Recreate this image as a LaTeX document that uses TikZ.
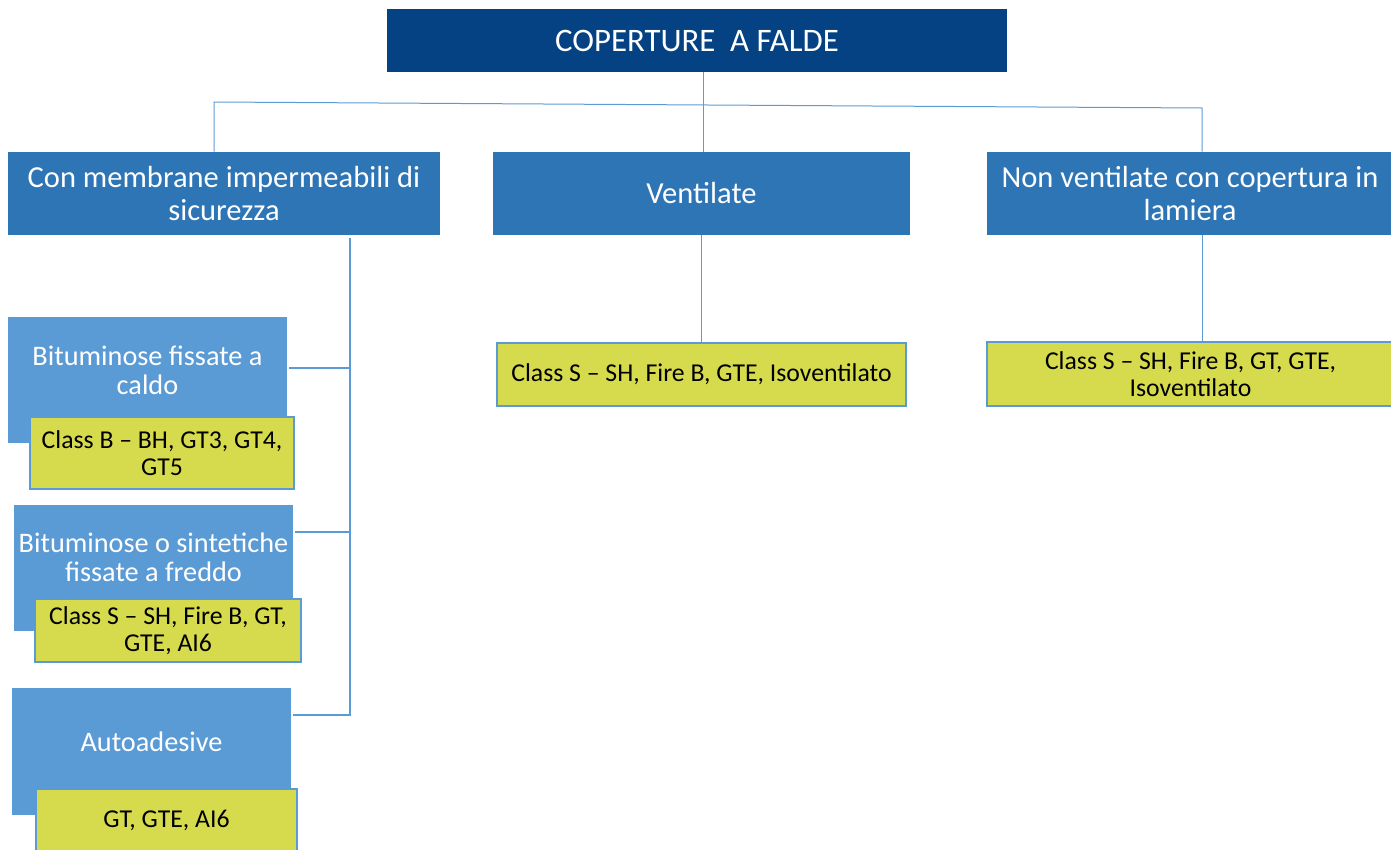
\documentclass[tikz,border=0pt]{standalone}
\usepackage{fontspec}
\setmainfont{Carlito}
\definecolor{topblue}{RGB}{4,66,132}
\definecolor{midblue}{RGB}{46,117,182}
\definecolor{subblue}{RGB}{91,155,213}
\definecolor{lime}{RGB}{214,219,77}

\begin{document}
\begin{tikzpicture}[x=0.75pt, y=-0.75pt,
    topbox/.style={fill=topblue, text=white, inner sep=2pt, minimum width=465pt, minimum height=47.25pt, font=\fontsize{24.6}{28}\selectfont},
    catbox/.style={fill=midblue, text=white, inner sep=2pt, align=center, minimum height=62.25pt, font=\fontsize{22.9}{25}\selectfont},
    subbox/.style={fill=subblue, inner sep=0pt, minimum width=209.25pt},
    subtext/.style={text=white, align=center, inner sep=0pt, font=\fontsize{21.2}{22}\selectfont},
    classbox/.style={fill=lime, draw=subblue, line width=1.5pt, align=center, inner sep=2pt, font=\fontsize{19.3}{20.5}\selectfont},
    thin/.style={draw=subblue, line width=0.75pt},
    trunk/.style={draw=subblue, line width=1.5pt}]
    \useasboundingbox (0,0) rectangle (1391,849);
    \clip (0,0) rectangle (1391,849);
    \coordinate (busL) at (214,102);
    \coordinate (busR) at (1202,108);
    \coordinate (busM) at (703,72);
    \node[topbox] (cop) at (697,40.5) {COPERTURE\ \ A FALDE};
    \node[catbox, minimum width=324pt] (con) at (224,193.5) {Con membrane impermeabili di\\sicurezza};
    \node[catbox, minimum width=312.75pt] (vent) at (701.5,193.5) {Ventilate};
    \node[catbox, minimum width=304.5pt] (non) at (1190,193.5) {Non ventilate con copertura in\\lamiera};
    \draw[thin] (cop.south -| busM) -- (vent.north -| busM);
    \draw[thin] (con.north -| busL) -- (busL) -- (busR) -- (non.north -| busR);
    \draw[thin] (vent.south) -- (701.5,342);
    \draw[thin] (non.south -| busR) -- (busR |- 0,341);
    \node[classbox, minimum width=306.75pt, minimum height=47.25pt] (vy) at (701.5,374.5) {Class S -- SH, Fire B, GTE, Isoventilato};
    \node[classbox, minimum width=305.25pt, minimum height=48pt] (ny) at (1190.5,374) {Class S -- SH, Fire B, GT, GTE,\\Isoventilato};
    \node[subbox, minimum height=94.5pt] (bit1) at (147.5,380) {};
    \node[subtext] (bit1t) at ([yshift=7.5pt]bit1.center) {Bituminose fissate a\\caldo};
    \node[classbox, minimum width=198pt, minimum height=54pt] (cb1) at (162,453) {Class B -- BH, GT3, GT4,\\GT5};
    \node[subbox, minimum height=94.5pt] (bit2) at (153.5,568) {};
    \node[subtext] (bit2t) at ([yshift=8pt]bit2.center) {Bituminose o sintetiche\\fissate a freddo};
    \node[classbox, minimum width=199.5pt, minimum height=47.25pt] (cb2) at (168,630.5) {Class S -- SH, Fire B, GT,\\GTE, AI6};
    \node[subbox, minimum height=95.25pt] (aut) at (151.5,751.5) {};
    \node[subtext] (autt) at ([yshift=7.5pt]aut.center) {Autoadesive};
    \node[classbox, minimum width=195.75pt, minimum height=46.5pt] (cb3) at (166.5,820) {GT, GTE, AI6};
    \draw[trunk] ([yshift=-2pt]con.south -| 350,0) -- (350,715) -- ([xshift=1.5pt]aut.east |- 0,715);
    \draw[trunk] ([xshift=1.5pt]bit1.east |- 0,368) -- (350,368);
    \draw[trunk] ([xshift=1.5pt]bit2.east |- 0,532) -- (350,532);
\end{tikzpicture}
\end{document}
